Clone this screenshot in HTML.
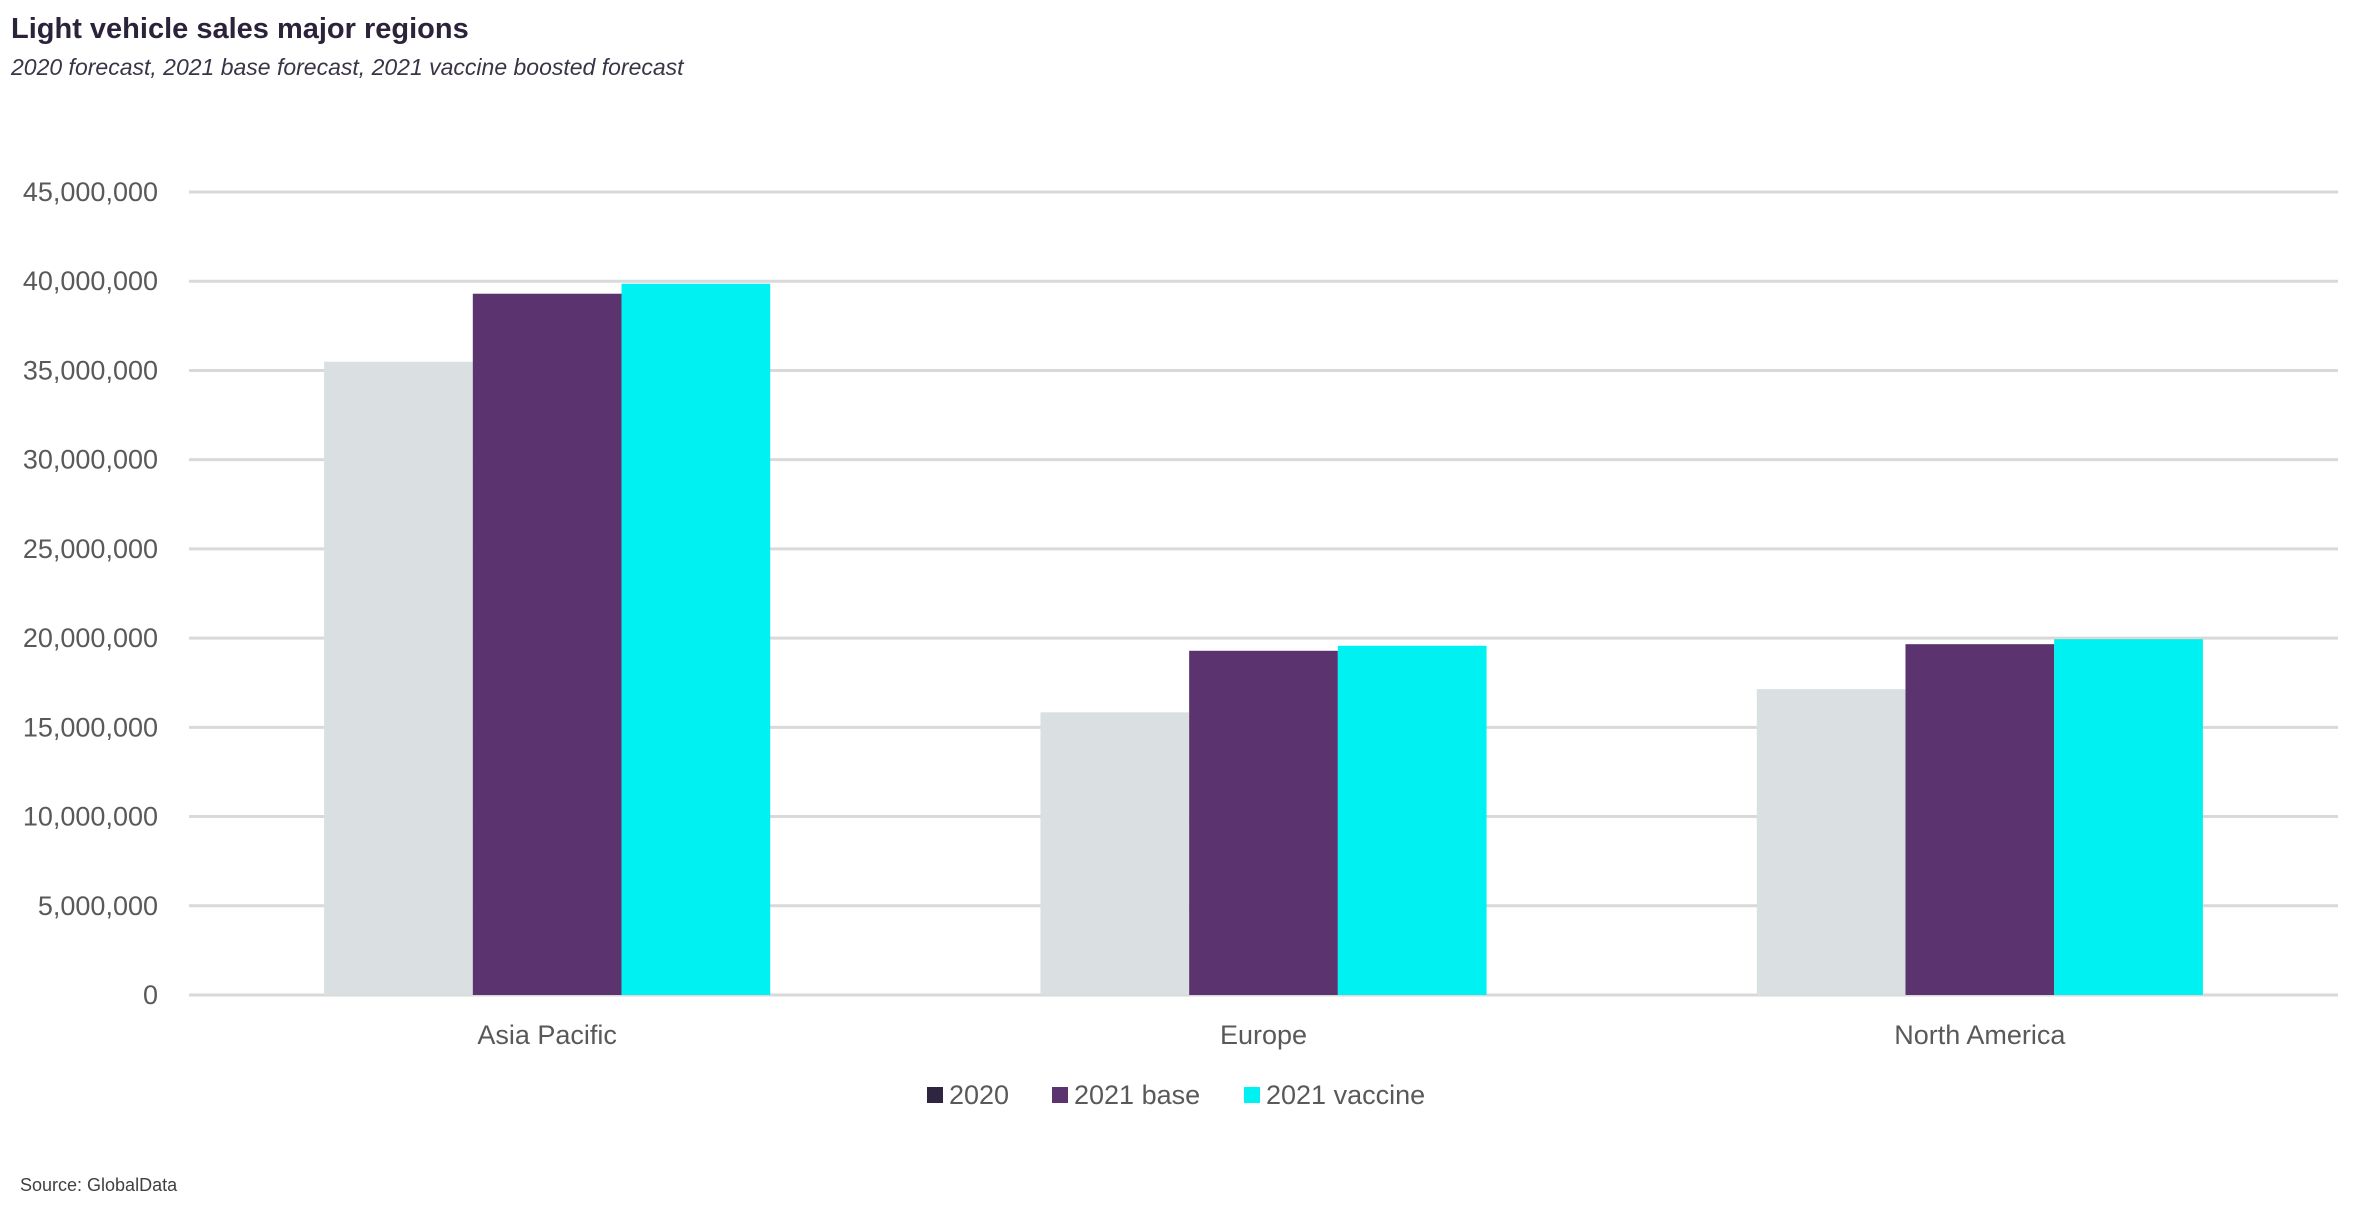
<!DOCTYPE html>
<html><head><meta charset="utf-8"><style>
html,body{margin:0;padding:0;background:#fff;}
svg{display:block;font-family:"Liberation Sans",sans-serif;}
</style></head><body>
<svg id="chart" width="2356" height="1220" viewBox="0 0 2356 1220">
<text x="11" y="38" font-size="29" font-weight="bold" fill="#2b2339">Light vehicle sales major regions</text>
<text x="11" y="75" font-size="23" font-style="italic" fill="#3a3446">2020 forecast, 2021 base forecast, 2021 vaccine boosted forecast</text>
<g id="grid"></g>
<g id="yticks"></g>
<g id="bars"></g>
<g id="xlabels"></g>
<g id="legend"></g>
<text x="20" y="1191" font-size="18" fill="#404040">Source: GlobalData</text>
</svg>
<script>
const categories = ["Asia Pacific", "Europe", "North America"];
const seriesNames = ["2020", "2021 base", "2021 vaccine"];
const values2020 = [35490000, 15840000, 17140000];
const valuesBase = [39300000, 19290000, 19660000];
const valuesVaccine = [39860000, 19570000, 19940000];
const yTicks = [0, 5000000, 10000000, 15000000, 20000000, 25000000, 30000000, 35000000, 40000000, 45000000];

const NS = "http://www.w3.org/2000/svg";
const L = 189, R = 2338, Y0 = 995, YT = 192, YMAX = 45000000;
const barColors = ["#dadfe1", "#5b336e", "#00f1f1"];
const legendColors = ["#2e2640", "#5b336e", "#00f1f1"];
function y(v){ return Y0 - (v / YMAX) * (Y0 - YT); }
const band = (R - L) / categories.length;
const barW = 148.7;
function xBar(ci, si){ return L + band*ci + band/2 - 1.5*barW + si*barW; }
function mk(tag, attrs, parent){ const e = document.createElementNS(NS, tag); for (const k in attrs) e.setAttribute(k, attrs[k]); parent.appendChild(e); return e; }

const grid = document.getElementById("grid");
const yt = document.getElementById("yticks");
yTicks.forEach(t => {
  const ln = mk("line", {x1:L, x2:R, y1:y(t), y2:y(t), stroke:"#d9d9d9", "stroke-width":3}, grid);
  
  
  const tx = mk("text", {x:158, y:y(t)+9, "font-size":27, "text-anchor":"end", fill:"#595959"}, yt);
  
  
  tx.textContent = t.toLocaleString("en-US");
});

const bars = document.getElementById("bars");
const series = [values2020, valuesBase, valuesVaccine];
series.forEach((vals, si) => {
  vals.forEach((v, ci) => {
    const r = mk("rect", {x:xBar(ci, si), y:y(v), width:barW, height:y(0)-y(v), fill:barColors[si]}, bars);
    
    
  });
});

const xl = document.getElementById("xlabels");
categories.forEach((c, ci) => {
  const t = mk("text", {x:L + band*ci + band/2, y:1044, "font-size":27, "text-anchor":"middle", fill:"#595959"}, xl);
  
  
  t.textContent = c;
});

const lg = document.getElementById("legend");
const lx = [927, 1052, 1244];
seriesNames.forEach((n, i) => {
  const s = mk("rect", {x:lx[i], y:1087, width:16, height:16, fill:legendColors[i]}, lg);
  
  
  const t = mk("text", {x:lx[i]+22, y:1104, "font-size":27, fill:"#595959"}, lg);
  
  
  t.textContent = n;
});
</script>
</body></html>
